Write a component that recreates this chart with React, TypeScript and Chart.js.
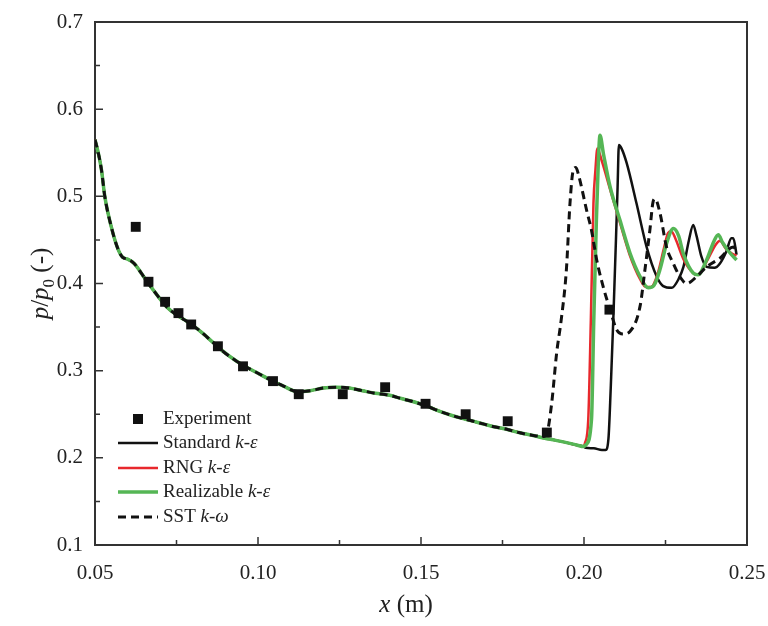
import React, { useEffect, useRef } from 'react';
import { Chart, registerables } from 'chart.js';

Chart.register(...registerables);

// Shared part of all simulated curves (x in m, p/p0)
const baseX = [0.05, 0.051, 0.052, 0.053, 0.055, 0.057, 0.0585, 0.06, 0.062, 0.064, 0.066, 0.068, 0.07, 0.072, 0.075, 0.078, 0.08, 0.083, 0.086, 0.09, 0.093, 0.096, 0.1, 0.104, 0.108, 0.112, 0.116, 0.12, 0.124, 0.128, 0.132, 0.136, 0.14, 0.144, 0.148, 0.152, 0.156, 0.16, 0.164, 0.168, 0.172, 0.176, 0.18, 0.184];
const baseY = [0.565, 0.55, 0.53, 0.5, 0.465, 0.44, 0.43, 0.428, 0.423, 0.413, 0.402, 0.392, 0.382, 0.373, 0.364, 0.357, 0.352, 0.343, 0.333, 0.32, 0.312, 0.305, 0.297, 0.289, 0.282, 0.276, 0.277, 0.28, 0.281, 0.28, 0.277, 0.274, 0.272, 0.268, 0.264, 0.259, 0.253, 0.248, 0.244, 0.24, 0.236, 0.233, 0.229, 0.226];

// Continuation shared by the k-epsilon models
const keX = [0.188, 0.19, 0.194, 0.198, 0.1998];
const keY = [0.2225, 0.221, 0.218, 0.2145, 0.213];

const stdTailX = [0.2005, 0.203, 0.2055, 0.2066, 0.2075, 0.2082, 0.209, 0.2098, 0.2103, 0.2107, 0.2115, 0.2131, 0.2161, 0.2192, 0.2223, 0.2243, 0.2269, 0.229, 0.2305, 0.2322, 0.2335, 0.2345, 0.236, 0.2376, 0.24, 0.2417, 0.2437, 0.2452, 0.2458, 0.2468];
const stdTailY = [0.2115, 0.211, 0.209, 0.209, 0.222, 0.28, 0.36, 0.45, 0.51, 0.559, 0.555, 0.538, 0.492, 0.442, 0.408, 0.397, 0.395, 0.405, 0.419, 0.45, 0.467, 0.455, 0.431, 0.419, 0.418, 0.423, 0.437, 0.452, 0.452, 0.433];

const rngTailX = [0.2003, 0.2013, 0.2021, 0.2029, 0.2035, 0.2041, 0.2055, 0.208, 0.211, 0.214, 0.2172, 0.219, 0.2205, 0.2225, 0.2245, 0.2258, 0.2268, 0.228, 0.2305, 0.2335, 0.235, 0.2376, 0.2405, 0.2417, 0.2435, 0.2455, 0.2468];
const rngTailY = [0.217, 0.2436, 0.358, 0.492, 0.53, 0.555, 0.54, 0.508, 0.47, 0.433, 0.405, 0.396, 0.396, 0.41, 0.44, 0.458, 0.46, 0.452, 0.428, 0.412, 0.41, 0.425, 0.445, 0.449, 0.44, 0.434, 0.432];

const relTailX = [0.2006, 0.2023, 0.203, 0.2038, 0.2044, 0.2049, 0.206, 0.208, 0.211, 0.2141, 0.2172, 0.2197, 0.2215, 0.2233, 0.2255, 0.2274, 0.229, 0.2305, 0.2335, 0.235, 0.2376, 0.2398, 0.2412, 0.2425, 0.2448, 0.2468];
const relTailY = [0.215, 0.244, 0.358, 0.473, 0.54, 0.57, 0.548, 0.511, 0.473, 0.435, 0.408, 0.395, 0.398, 0.416, 0.448, 0.463, 0.455, 0.434, 0.412, 0.41, 0.427, 0.448, 0.456, 0.447, 0.435, 0.427];

const sstTailX = [0.1875, 0.1886, 0.1901, 0.1916, 0.193, 0.1946, 0.1957, 0.1967, 0.1975, 0.1985, 0.2008, 0.2023, 0.2039, 0.2059, 0.208, 0.21, 0.212, 0.2141, 0.2172, 0.2187, 0.2202, 0.2212, 0.2218, 0.2233, 0.2253, 0.2274, 0.2294, 0.2315, 0.2346, 0.2376, 0.2417, 0.2458, 0.2468];
const sstTailY = [0.2245, 0.228, 0.263, 0.32, 0.358, 0.416, 0.492, 0.53, 0.533, 0.522, 0.484, 0.461, 0.427, 0.396, 0.37, 0.347, 0.342, 0.345, 0.374, 0.416, 0.461, 0.494, 0.497, 0.481, 0.442, 0.423, 0.408, 0.4, 0.408, 0.419, 0.429, 0.442, 0.438];

const expX = [0.0625, 0.0664, 0.0715, 0.0756, 0.0795, 0.0877, 0.0954, 0.1046, 0.1125, 0.126, 0.139, 0.1514, 0.1637, 0.1766, 0.1886, 0.2078];
const expY = [0.465, 0.402, 0.379, 0.366, 0.353, 0.328, 0.305, 0.288, 0.273, 0.273, 0.281, 0.262, 0.25, 0.242, 0.229, 0.37];

const xTickValues = [0.05, 0.1, 0.15, 0.2, 0.25];
const xTickLabels = ['0.05', '0.10', '0.15', '0.20', '0.25'];
const yTickValues = [0.1, 0.2, 0.3, 0.4, 0.5, 0.6, 0.7];
const yTickLabels = ['0.1', '0.2', '0.3', '0.4', '0.5', '0.6', '0.7'];

const legendLabels: [string, string][] = [
  ['Experiment', ''],
  ['Standard ', 'k-ε'],
  ['RNG ', 'k-ε'],
  ['Realizable ', 'k-ε'],
  ['SST ', 'k-ω'],
];

const SERIF = '"Liberation Serif", "Times New Roman", serif';
const TXT = '#222';

const pts = (xs: number[], ys: number[]) => xs.map((x, i) => ({ x, y: ys[i] }));

const zeroPad = (s: any) => { s.paddingLeft = 0; s.paddingRight = 0; s.paddingTop = 0; s.paddingBottom = 0; };

const decorPlugin = {
  id: 'decor',
  beforeDatasetsDraw(chart: any) {
    const { ctx, chartArea: a, scales } = chart;
    ctx.save();
    ctx.strokeStyle = '#333';
    ctx.lineWidth = 2;
    ctx.strokeRect(a.left, a.top, a.right - a.left, a.bottom - a.top);
    ctx.lineWidth = 1.5;
    ctx.beginPath();
    xTickValues.forEach((v, i) => {
      const px = scales.x.getPixelForValue(v);
      ctx.moveTo(px, a.bottom);
      ctx.lineTo(px, a.bottom - 8);
      if (i < xTickValues.length - 1) {
        const mx = scales.x.getPixelForValue((v + xTickValues[i + 1]) / 2);
        ctx.moveTo(mx, a.bottom);
        ctx.lineTo(mx, a.bottom - 5);
      }
    });
    yTickValues.forEach((v, i) => {
      const py = scales.y.getPixelForValue(v);
      ctx.moveTo(a.left, py);
      ctx.lineTo(a.left + 8, py);
      if (i < yTickValues.length - 1) {
        const my = scales.y.getPixelForValue((v + yTickValues[i + 1]) / 2);
        ctx.moveTo(a.left, my);
        ctx.lineTo(a.left + 5, my);
      }
    });
    ctx.stroke();
    ctx.restore();
  },
  afterDraw(chart: any) {
    const { ctx, chartArea: a } = chart;
    ctx.save();
    // Legend
    const rows = [419, 443, 468, 492, 517];
    const sx0 = 118, sx1 = 158, tx = 163;
    const ds = chart.data.datasets;
    rows.forEach((ry, i) => {
      const d = ds[i];
      if (i === 0) {
        ctx.fillStyle = '#111';
        ctx.fillRect(138 - 5, ry - 5, 10, 10);
      } else {
        ctx.strokeStyle = d.borderColor;
        ctx.lineWidth = d.borderWidth;
        ctx.setLineDash(d.borderDash || []);
        ctx.beginPath();
        ctx.moveTo(sx0, ry);
        ctx.lineTo(sx1, ry);
        ctx.stroke();
        ctx.setLineDash([]);
      }
      ctx.fillStyle = TXT;
      ctx.textBaseline = 'middle';
      ctx.textAlign = 'left';
      const [plain, ital] = legendLabels[i];
      ctx.font = `19px ${SERIF}`;
      ctx.fillText(plain, tx, ry);
      const w = ctx.measureText(plain).width;
      if (ital) {
        ctx.font = `italic 19px ${SERIF}`;
        ctx.fillText(ital, tx + w, ry);
      }
    });

    // X title
    ctx.fillStyle = TXT;
    ctx.textBaseline = 'alphabetic';
    ctx.textAlign = 'left';
    const xParts: [string, string][] = [['x', 'italic 25px'], [' (m)', '25px']];
    let total = 0;
    xParts.forEach(([t, f]) => { ctx.font = `${f} ${SERIF}`; total += ctx.measureText(t).width; });
    let cx = (a.left + a.right) / 2 - 15 - total / 2;
    xParts.forEach(([t, f]) => { ctx.font = `${f} ${SERIF}`; ctx.fillText(t, cx, 612); cx += ctx.measureText(t).width; });

    // Y title (rotated)
    ctx.save();
    ctx.translate(48, (a.top + a.bottom) / 2);
    ctx.rotate(-Math.PI / 2);
    const yParts: [string, string, number][] = [['p', 'italic 25px', 0], ['/', '25px', 0], ['p', 'italic 25px', 0], ['0', '17px', 6], [' (-)', '25px', 0]];
    total = 0;
    yParts.forEach(([t, f]) => { ctx.font = `${f} ${SERIF}`; total += ctx.measureText(t).width; });
    let cy = -total / 2;
    yParts.forEach(([t, f, off]) => { ctx.font = `${f} ${SERIF}`; ctx.fillText(t, cy, off); cy += ctx.measureText(t).width; });
    ctx.restore();
    ctx.restore();
  },
};

export default function App() {
  const ref = useRef<HTMLCanvasElement | null>(null);
  useEffect(() => {
    if (!ref.current) return;
    const keBase = { x: [...baseX, ...keX], y: [...baseY, ...keY] };
    const chart = new Chart(ref.current, {
      type: 'scatter',
      data: {
        datasets: [
          { label: 'Experiment', data: pts(expX, expY), pointStyle: 'rect', pointRadius: 7, pointBackgroundColor: '#111', pointBorderWidth: 0, showLine: false, order: 0 } as any,
          { label: 'Standard k-ε', data: pts([...keBase.x, ...stdTailX], [...keBase.y, ...stdTailY]), showLine: true, borderColor: '#111', borderWidth: 2.5, pointRadius: 0, cubicInterpolationMode: 'monotone', order: 4 },
          { label: 'RNG k-ε', data: pts([...keBase.x, ...rngTailX], [...keBase.y, ...rngTailY]), showLine: true, borderColor: '#e8282c', borderWidth: 2.5, pointRadius: 0, cubicInterpolationMode: 'monotone', order: 3 },
          { label: 'Realizable k-ε', data: pts([...keBase.x, ...relTailX], [...keBase.y, ...relTailY]), showLine: true, borderColor: '#55b655', borderWidth: 3.5, pointRadius: 0, cubicInterpolationMode: 'monotone', order: 2 },
          { label: 'SST k-ω', data: pts([...baseX, ...sstTailX], [...baseY, ...sstTailY]), showLine: true, borderColor: '#111', borderWidth: 3, borderDash: [8, 5], pointRadius: 0, cubicInterpolationMode: 'monotone', order: 1 },
        ],
      },
      options: {
        animation: false,
        responsive: true,
        maintainAspectRatio: false,
        layout: { padding: { left: 0, right: 21, top: 22, bottom: 0 } },
        plugins: { legend: { display: false }, tooltip: { enabled: false } },
        scales: {
          x: {
            type: 'linear', min: 0.05, max: 0.25,
            grid: { display: false, drawTicks: false },
            border: { display: false },
            afterBuildTicks: (s: any) => { s.ticks = xTickValues.map((v) => ({ value: v })); },
            afterFit: (s: any) => { s.height = 81; zeroPad(s); },
            ticks: {
              padding: 16, color: TXT, font: { family: SERIF, size: 21 },
              callback: (v: any) => { const i = xTickValues.findIndex((t) => Math.abs(t - v) < 1e-9); return i >= 0 ? xTickLabels[i] : ''; },
            },
          },
          y: {
            type: 'linear', min: 0.1, max: 0.7,
            grid: { display: false, drawTicks: false },
            border: { display: false },
            afterBuildTicks: (s: any) => { s.ticks = yTickValues.map((v) => ({ value: v })); },
            afterFit: (s: any) => { s.width = 95; zeroPad(s); },
            ticks: {
              padding: 12, color: TXT, font: { family: SERIF, size: 21 },
              callback: (v: any) => { const i = yTickValues.findIndex((t) => Math.abs(t - v) < 1e-9); return i >= 0 ? yTickLabels[i] : ''; },
            },
          },
        },
      },
      plugins: [decorPlugin],
    });
    return () => chart.destroy();
  }, []);
  return (
    <div style={{ position: 'fixed', left: 0, top: 0, width: 768, height: 626, background: '#fff' }}>
      <canvas ref={ref} />
    </div>
  );
}
